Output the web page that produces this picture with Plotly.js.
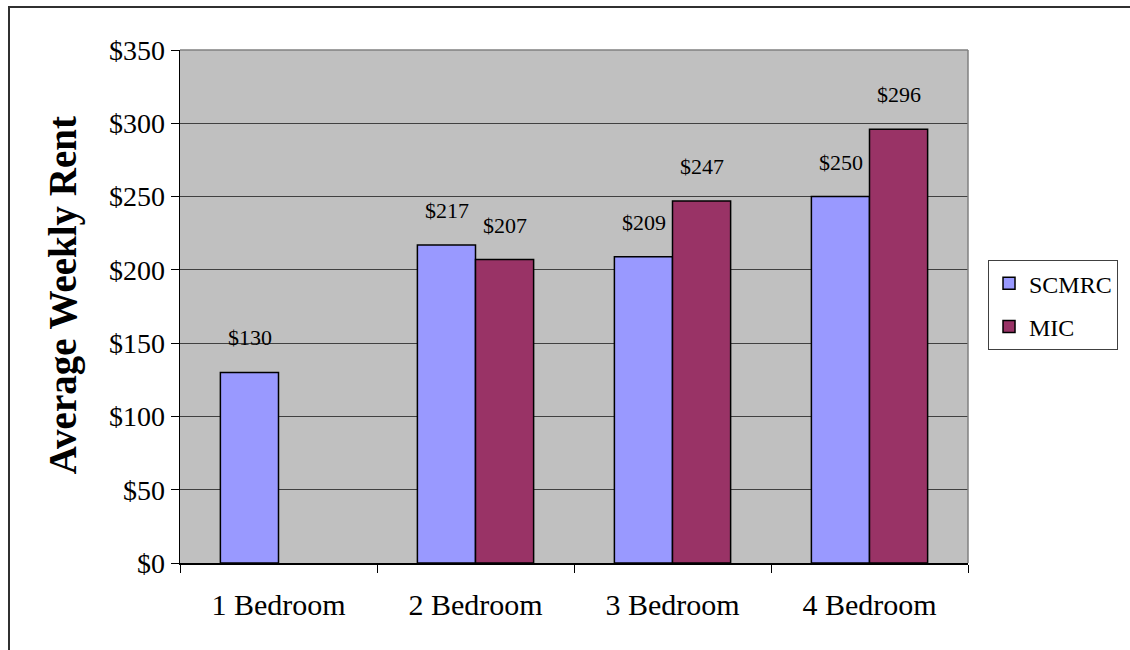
<!DOCTYPE html>
<html>
<head>
<meta charset="utf-8">
<script src="https://cdn.plot.ly/plotly-3.0.1.min.js"></script>
<style>
  html, body { margin: 0; padding: 0; background: #fff; }
  #chart { width: 1130px; height: 650px; position: relative; }
  #frame { position: absolute; left: 8px; top: 6px; width: 1200px; height: 700px;
           border-top: 2px solid #303030; border-left: 2px solid #303030;
           pointer-events: none; z-index: 5; }
</style>
</head>
<body>
<div id="frame"></div>
<div id="chart"></div>
<script>
const categories = ["1 Bedroom", "2 Bedroom", "3 Bedroom", "4 Bedroom"];
const seriesNames = ["SCMRC", "MIC"];
const scmrc = [130, 217, 209, 250];
const mic = [null, 207, 247, 296];
const yTickVals = [0, 50, 100, 150, 200, 250, 300, 350];
const yTickText = ["$0", "$50", "$100", "$150", "$200", "$250", "$300", "$350"];
const yTitle = "Average Weekly Rent";

const serif = "'Liberation Serif', 'Times New Roman', serif";

const traces = [
  { type: "bar", name: seriesNames[0], x: categories, y: scmrc, legendgroup: "a",
    marker: { color: "#9999FF", line: { color: "#000", width: 1.5 } }, hoverinfo: "none" },
  { type: "bar", name: seriesNames[1], x: categories, y: mic, legendgroup: "b",
    marker: { color: "#993366", line: { color: "#000", width: 1.5 } }, hoverinfo: "none" }
];

const annotations = [];
[scmrc, mic].forEach((vals, si) => {
  vals.forEach((v, i) => {
    if (v === null) return;
    annotations.push({
      x: categories[i], y: v, xref: "x", yref: "y",
      text: "$" + v, showarrow: false,
      xanchor: "center", yanchor: "bottom",
      xshift: si === 0 ? -29 : 29, yshift: 20,
      font: { family: serif, size: 22, color: "#000" }
    });
  });
});
// y-axis title (as annotation so it can sit slightly above the plot's centre, like the original)
annotations.push({
  xref: "paper", yref: "paper", x: -0.1485, y: 0.522,
  xanchor: "center", yanchor: "middle", textangle: -90,
  text: "<b>" + yTitle + "</b>", showarrow: false,
  font: { family: serif, size: 39, color: "#000" }
});

const layout = {
  width: 1130, height: 650,
  margin: { l: 180, r: 162, t: 50, b: 87 },
  paper_bgcolor: "rgba(0,0,0,0)",
  plot_bgcolor: "#C0C0C0",
  barmode: "group",
  bargap: 0.41,
  bargroupgap: 0,
  showlegend: true,
  legend: {
    x: 1.0254, xanchor: "left", y: 0.415, yanchor: "bottom",
    bordercolor: "#404040", borderwidth: 1, bgcolor: "#fff",
    font: { family: serif, size: 24, color: "#000" },
    traceorder: "grouped", tracegroupgap: 9,
    itemwidth: 30
  },
  xaxis: {
    type: "category", tickson: "boundaries",
    ticks: "outside", ticklen: 8, tickcolor: "#000", tickwidth: 1,
    showline: true, linecolor: "#000", linewidth: 1.5,
    showgrid: false, zeroline: false,
    tickfont: { family: serif, size: 30, color: "#000" },
    ticklabelstandoff: 14, fixedrange: true
  },
  yaxis: {
    range: [0, 350], tickvals: yTickVals, ticktext: yTickText,
    ticks: "outside", ticklen: 8, tickcolor: "#000", tickwidth: 1,
    showline: true, linecolor: "#000", linewidth: 1.5,
    showgrid: true, gridcolor: "#404040", gridwidth: 1,
    zeroline: false,
    tickfont: { family: serif, size: 28, color: "#000" },
    fixedrange: true
  },
  shapes: [
    { type: "line", xref: "paper", yref: "paper", x0: 0, x1: 1, y0: 1, y1: 1,
      line: { color: "#808080", width: 1.5 }, layer: "above" },
    { type: "line", xref: "paper", yref: "paper", x0: 1, x1: 1, y0: 0, y1: 1,
      line: { color: "#808080", width: 1.5 }, layer: "above" }
  ],
  annotations: annotations
};

Plotly.newPlot("chart", traces, layout, { displayModeBar: false, staticPlot: true });
</script>
</body>
</html>
